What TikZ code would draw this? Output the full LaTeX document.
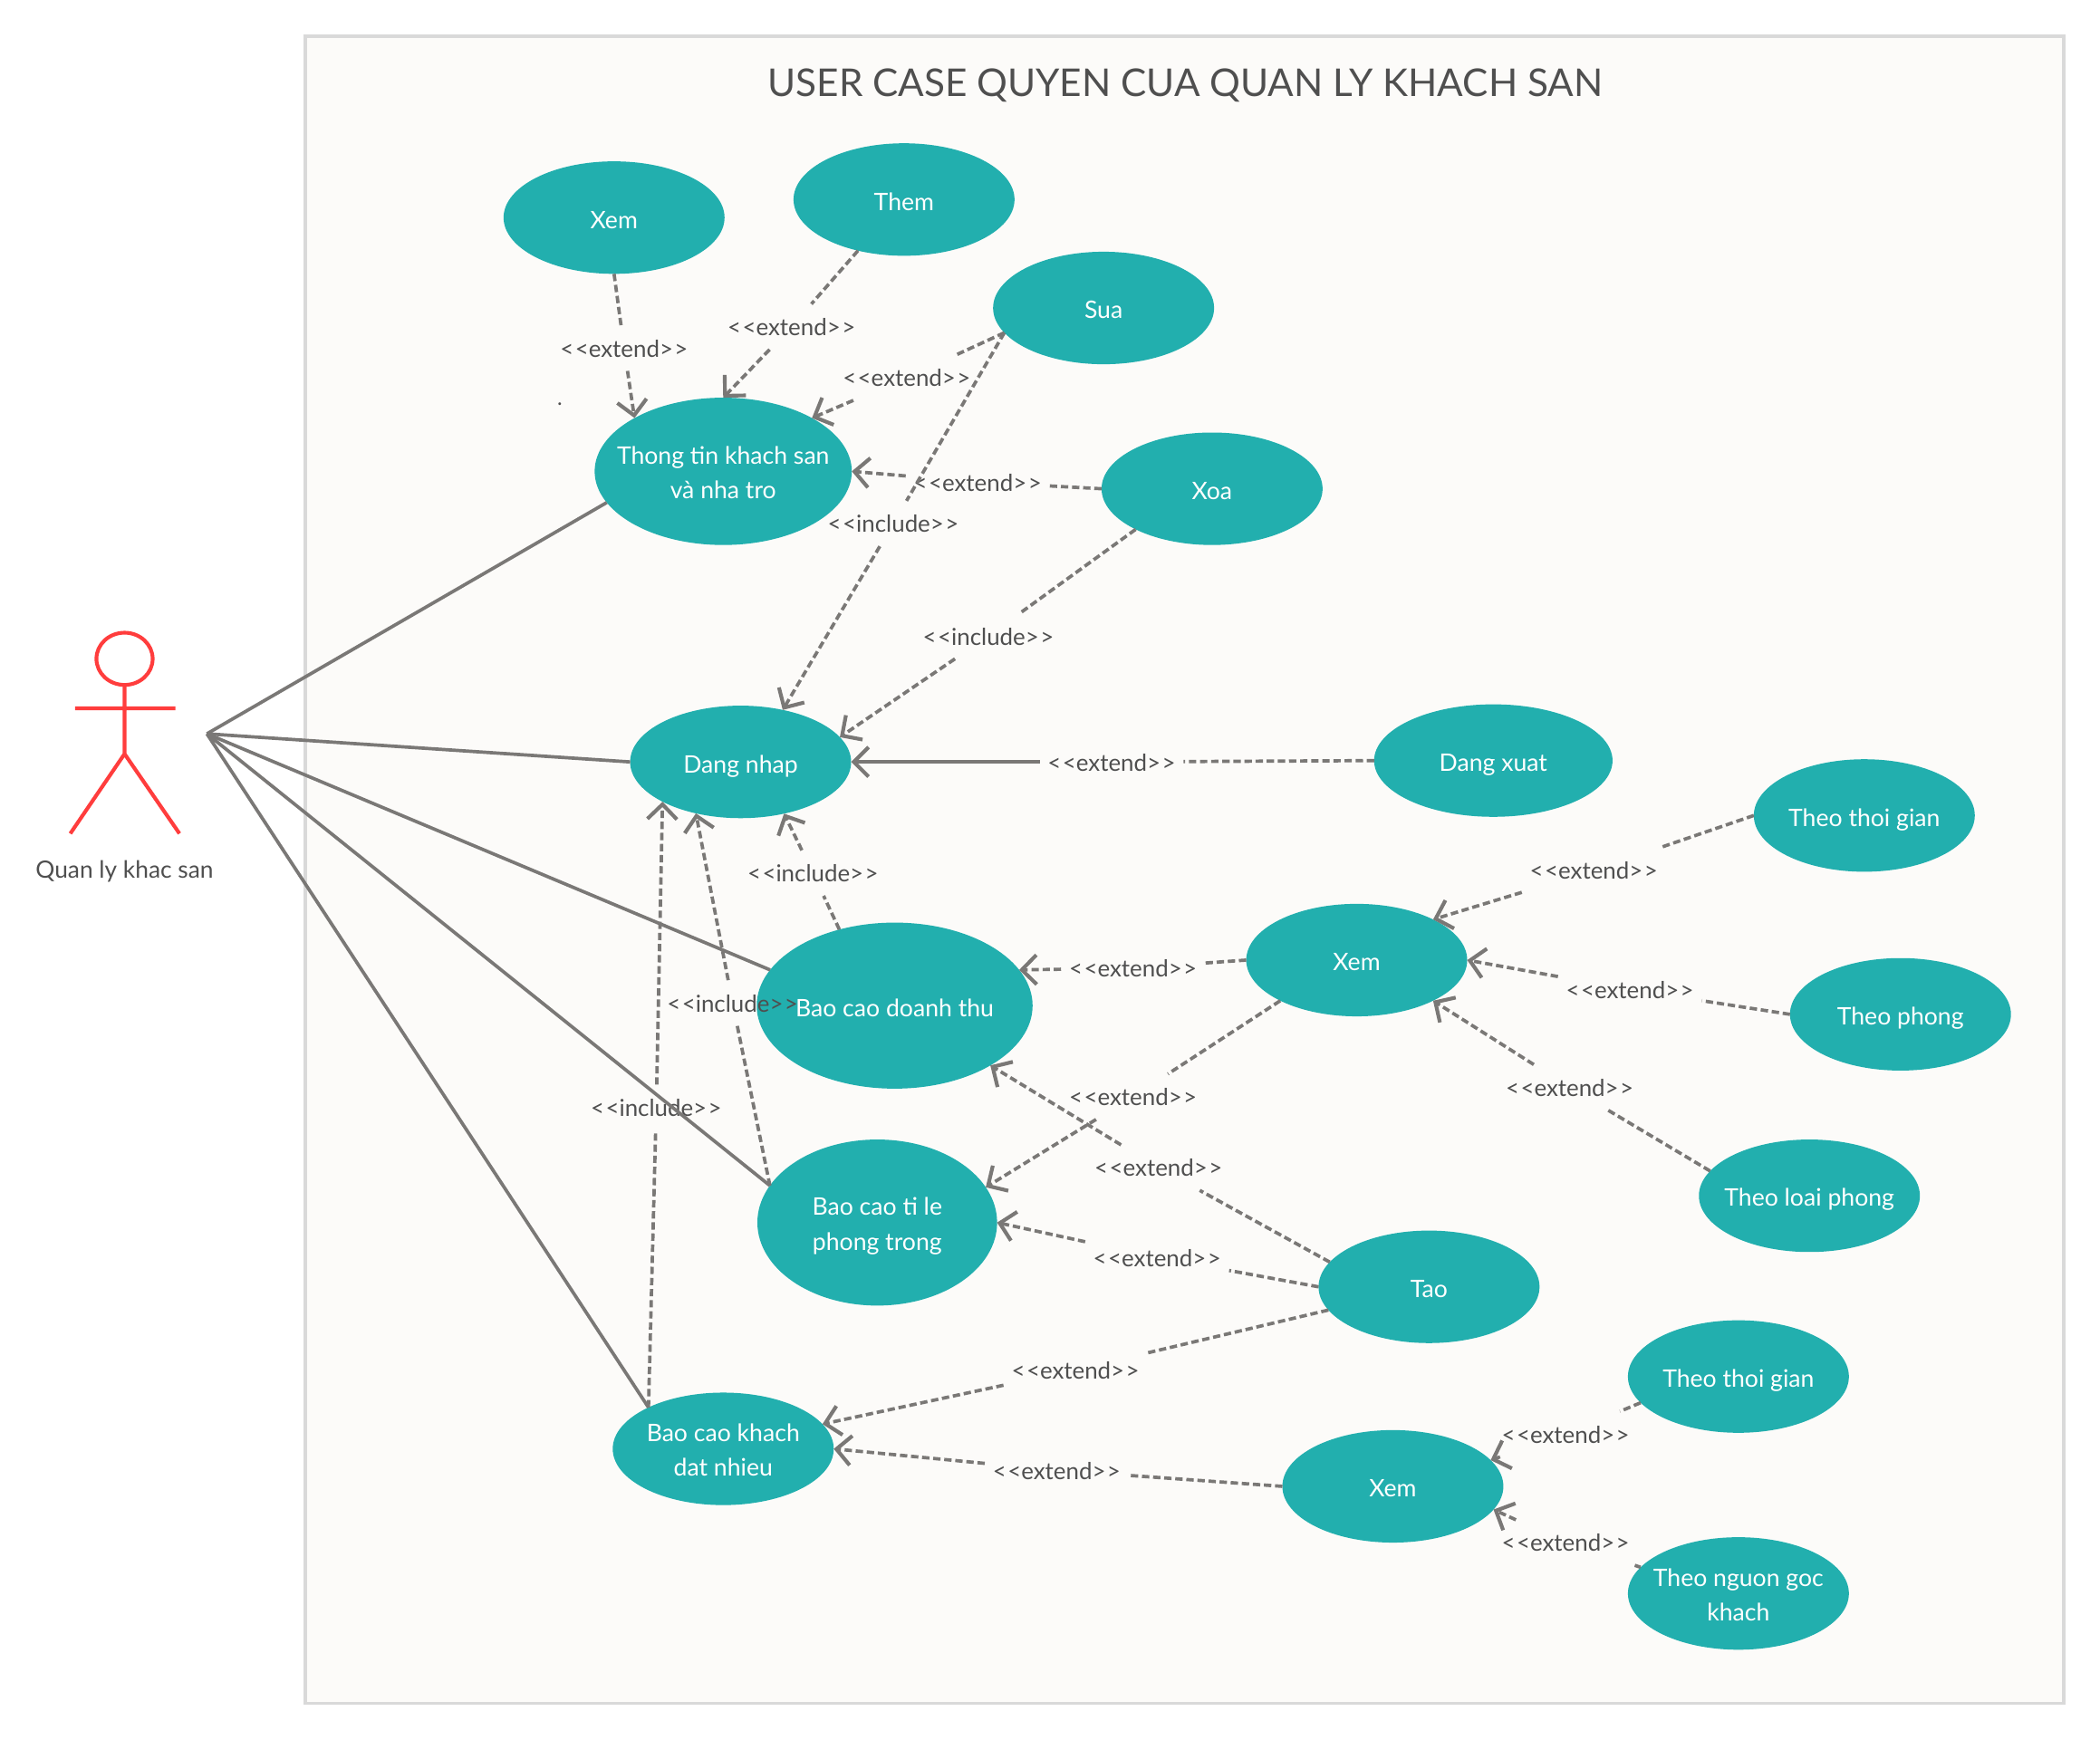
\documentclass[tikz,border=0pt]{standalone}
\usepackage{fontspec}
\setmainfont{Lato}
\usetikzlibrary{arrows.meta,shapes.geometric}
\definecolor{teal}{HTML}{22AFAE}
\definecolor{frameline}{HTML}{D9D9D9}
\definecolor{framefill}{HTML}{FCFBF9}
\definecolor{edgegray}{HTML}{7A7876}
\definecolor{textgray}{HTML}{4F4F4F}
\definecolor{actorred}{HTML}{FF3D3D}
\newcommand{\ext}{<\kern1pt<extend>\kern1pt>}
\newcommand{\inc}{<\kern1pt<include>\kern1pt>}
\newcommand{\topstrut}{\rule{0pt}{19pt}}
\tikzset{
	usecase/.style={ellipse,fill=teal,text=white,inner sep=-30pt,outer sep=0pt,align=center,
		minimum width=165pt,minimum height=84pt,font=\fontsize{18}{26}\selectfont,
		execute at begin node={\rule[-4pt]{0pt}{24pt}}},
	twoline/.style={execute at begin node={}},
	dep/.style={draw=edgegray,line width=2.5pt,dash pattern=on 5.5pt off 2.8pt},
	tip/.style={-{Straight Barb[length=11pt,width=22pt,line width=2.8pt]}},
	lbl/.style={text=textgray,inner xsep=6pt,inner ysep=0pt,outer sep=0pt,minimum height=34pt,
		font=\fontsize{17.5}{18}\selectfont,execute at begin node={\rule{0pt}{13.5pt}}},
	assoc/.style={draw=edgegray,line width=2.5pt},
	stick/.style={draw=actorred,line width=2.8pt}
}

\begin{document}
\begin{tikzpicture}[x=1pt,y=-1pt]
\useasboundingbox (0,0) rectangle (1568,1298.8);

\draw[frameline,fill=framefill,line width=2.6pt] (228,27) rectangle (1541,1272);
\node[text=textgray,font=\fontsize{28.6}{34}\selectfont] (title) at (885,64) {USER CASE QUYEN CUA QUAN LY KHACH SAN};
\node[text=textgray,font=\fontsize{16}{18}\selectfont] (dot) at (418,302) {.};

% actor
\node[ellipse,stick,minimum width=42pt,minimum height=39pt,inner sep=0pt,outer sep=0pt] (head) at (93,492) {};
\coordinate (hip) at (93,563);
\draw[stick] (head.south) -- (hip) (hip) -- (52.5,622.5) (hip) -- (134,622.5) (56,529) -- (131,529);
\node[text=textgray,font=\fontsize{17.8}{20}\selectfont] (who) at (93,651) {Quan ly khac san};
\coordinate (actor) at (154.5,548);

% use cases
\node[usecase] (xa) at (458.5,162.5) {Xem};
\node[usecase] (them) at (675,149) {Them};
\node[usecase] (sua) at (824,230) {Sua};
\node[usecase,twoline,minimum width=192pt,minimum height=110pt] (tt) at (540,352) {\topstrut Thong tin khach san\\và nha tro};
\node[usecase] (xoa) at (905,365) {Xoa};
\node[usecase] (dn) at (553,569) {Dang nhap};
\node[usecase,minimum width=178pt] (dx) at (1115,568) {Dang xuat};
\node[usecase,minimum width=206pt,minimum height=124pt] (dt) at (668,751) {Bao cao doanh thu};
\node[usecase,twoline,minimum width=179pt,minimum height=124pt] (tl) at (655,913) {\topstrut Bao cao ti le\\phong trong};
\node[usecase,twoline] (bk) at (540,1082) {\topstrut Bao cao khach\\dat nhieu};
\node[usecase] (xb) at (1013,717) {Xem};
\node[usecase] (tao) at (1067,961) {Tao};
\node[usecase] (xc) at (1040,1110) {Xem};
\node[usecase] (tg1) at (1392,609) {Theo thoi gian};
\node[usecase] (tp) at (1419,757.5) {Theo phong};
\node[usecase] (tlp) at (1351,893) {Theo loai phong};
\node[usecase] (tg2) at (1298,1028) {Theo thoi gian};
\node[usecase,twoline] (tn) at (1298,1190) {\topstrut Theo nguon goc\\khach};

% labels
\node[lbl] (l1) at (466,260) {\ext};
\node[lbl] (l2) at (591,244) {\ext};
\node[lbl] (l3) at (677,282) {\ext};
\node[lbl] (l4) at (730,360) {\ext};
\node[lbl] (l5) at (667,391) {\inc};
\node[lbl] (l6) at (738,475) {\inc};
\node[lbl] (l7) at (830,569) {\ext};
\node[lbl] (l8) at (607,652) {\inc};
\node[lbl] (l9) at (547,749) {\inc};
\node[lbl] (l10) at (490,827) {\inc};
\node[lbl] (l11) at (846,723) {\ext};
\node[lbl] (l12) at (846,819) {\ext};
\node[lbl] (l13) at (865,872) {\ext};
\node[lbl] (l14) at (864,939) {\ext};
\node[lbl] (l15) at (803,1023) {\ext};
\node[lbl] (l16) at (789,1098) {\ext};
\node[lbl] (l17) at (1190,650) {\ext};
\node[lbl] (l18) at (1217,739) {\ext};
\node[lbl] (l19) at (1172,812) {\ext};
\node[lbl] (l20) at (1169,1071) {\ext};
\node[lbl] (l21) at (1169,1152) {\ext};

\path[assoc]
	(actor) edge (tt.195) (actor) edge (dn.180) (actor) edge (dt.164)
	(actor) edge (tl.161) (actor) edge (bk.151.5);

\path[dep]
	(xa.-90) edge (l1) (them.228) edge (l2) (sua.194) edge (l3) (xoa.180) edge (l4)
	(sua.194) edge (l5) (xoa.208) edge (l6) (dx.180) edge (l7) (dt.126) edge (l8)
	(tl.161) edge (l9) (bk.151.5) edge (l10) (xb.180) edge (l11) (xb.208) edge (l12)
	(tao.166) edge (l13) (tao.180) edge (l14) (tao.193.5) edge (l15) (xc.180) edge (l16)
	(tg1.180) edge (l17) (tp.180) edge (l18) (tlp.166) edge (l19) (tg2.195) edge (l20) (tn.165) edge (l21);

\path[dep,tip]
	(l1) edge (tt.149) (l2) edge (tt.90) (l3) edge (tt.31) (l4) edge (tt.0)
	(l5) edge (dn.51) (l6) edge (dn.14.6) (l8) edge (dn.-50)
	(l9) edge (dn.229) (l10) edge (dn.207) (l11) edge (dt.16) (l12) edge (tl.18)
	(l13) edge (dt.-32.5) (l14) edge (tl.0) (l15) edge (bk.14) (l16) edge (bk.0)
	(l17) edge (xb.28) (l18) edge (xb.0) (l19) edge (xb.-28) (l20) edge (xc.15) (l21) edge (xc.-13);

\path[assoc,tip] (l7) edge (dn.0);

\end{tikzpicture}
\end{document}
